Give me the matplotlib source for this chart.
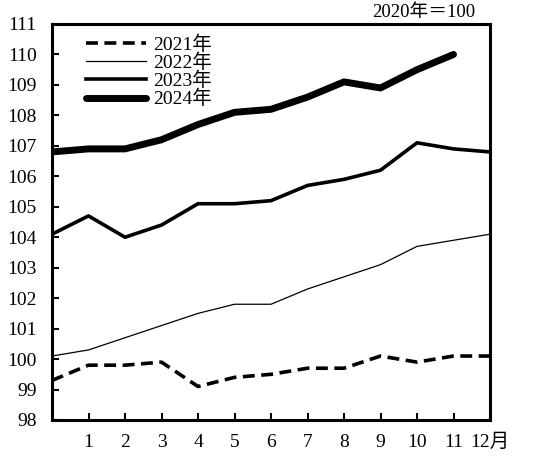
import matplotlib
matplotlib.use("Agg")
import matplotlib.pyplot as plt

plt.rcParams['font.family'] = ['Liberation Serif', 'Noto Sans CJK JP']

months = list(range(0, 13))
y2021 = [99.3, 99.8, 99.8, 99.9, 99.1, 99.4, 99.5, 99.7, 99.7, 100.1, 99.9, 100.1, 100.1]
y2022 = [100.1, 100.3, 100.7, 101.1, 101.5, 101.8, 101.8, 102.3, 102.7, 103.1, 103.7, 103.9, 104.1]
y2023 = [104.1, 104.7, 104.0, 104.4, 105.1, 105.1, 105.2, 105.7, 105.9, 106.2, 107.1, 106.9, 106.8]
y2024 = [106.8, 106.9, 106.9, 107.2, 107.7, 108.1, 108.2, 108.6, 109.1, 108.9, 109.5, 110.0]
labels = ['2021年', '2022年', '2023年', '2024年']
xticklabels = ['1', '2', '3', '4', '5', '6', '7', '8', '9', '10', '11', '12月']
yticks = list(range(98, 112))

fig = plt.figure(figsize=(5.4, 4.58), dpi=100)
ax = fig.add_axes([52/540, 1-420/458, (490-52)/540, (420-24)/458])

ax.plot(months, y2021, color='black', lw=2.6, ls=(0, (3.3, 1.8)), label=labels[0])
ax.plot(months, y2022, color='black', lw=0.9, label=labels[1])
ax.plot(months, y2023, color='black', lw=2.6, label=labels[2])
ax.plot(months[:len(y2024)], y2024, color='black', lw=5.0, solid_capstyle='round', label=labels[3])

ax.set_xlim(0, 12)
ax.set_ylim(98, 111)
ax.set_xticks(range(1, 13))
ax.set_xticklabels(xticklabels)
ax.set_yticks(yticks)
ax.tick_params(axis='both', direction='in', length=5, width=1.5, labelsize=14, color='black')
ax.tick_params(axis='x', pad=10)
ax.tick_params(axis='y', pad=11)
for s in ax.spines.values():
    s.set_linewidth(2.2)

leg = ax.legend(loc='upper left', bbox_to_anchor=(0.06, 0.99), frameon=False, fontsize=14,
                handlelength=3.1, handletextpad=0.35, labelspacing=-0.02, borderaxespad=0)

fig.text(475/540, 1-13/458, '2020年＝100', ha='right', va='center', fontsize=13.5)

fig.savefig('out.png', dpi=100)
